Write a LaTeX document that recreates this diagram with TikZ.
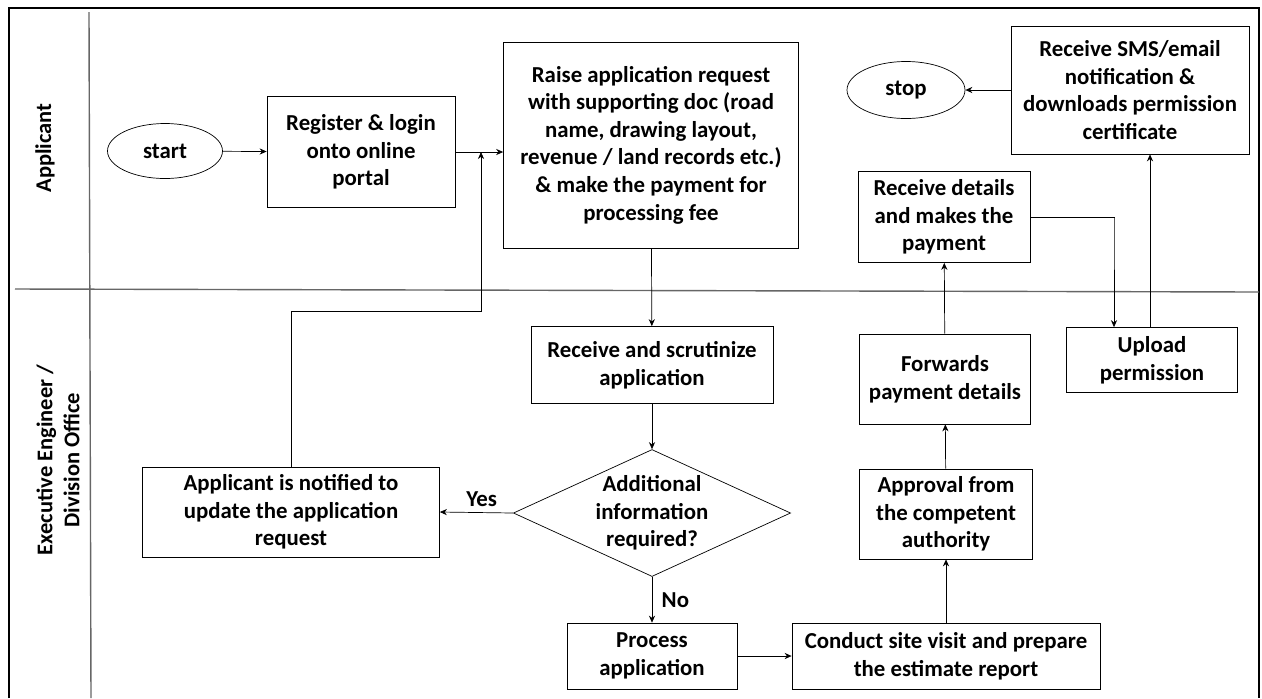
\documentclass[tikz,border=0pt]{standalone}
\usepackage{fontspec}
\setmainfont{Carlito}
\usepackage{tikz}
\usetikzlibrary{shapes.geometric,arrows.meta}

\newdimen\px \px=0.02cm

\begin{document}
\begin{tikzpicture}[x=\px, y=-\px,
    every node/.style={font=\bfseries\fontsize{13}{15.7}\selectfont},
    box/.style={draw, thin, align=center, inner sep=0pt},
    term/.style={draw, thin, ellipse, inner sep=0pt},
    lane/.style={rotate=90, align=center, font=\bfseries\fontsize{12.8}{15.3}\selectfont},
    arr/.style={thin, -{Stealth[length=4pt, width=3.5pt]}}]
    \useasboundingbox (0,0) rectangle (1262,698);

    \draw[line width=1.1pt] (9,698) -- (9,8) -- (1259,8) -- (1259,698);
    \draw[gray!80!black, line width=0.8pt] (89,12) -- (91,698);
    \draw[gray!80!black, line width=0.8pt] (15,289) -- (1259,292);

    \node[lane] (applicant) at (45,148) {Applicant};
    \node[lane] (office) at (58,460) {Executive Engineer /\\Division Office};

    \node[term, minimum width=115\px, minimum height=55\px] (start) at (165,151) {start};
    \node[box, minimum width=188\px, minimum height=111\px] (reg) at (361,152) {Register \& login\\onto online\\portal};
    \node[box, minimum width=295\px, minimum height=206\px] (raise) at (651,145) {Raise application request\\with supporting doc (road\\name, drawing layout,\\revenue / land records etc.)\\\& make the payment for\\processing fee};
    \node[term, minimum width=118\px, minimum height=57\px] (stop) at (906,90) {stop};
    \node[box, minimum width=238\px, minimum height=128\px] (sms) at (1130,90) {Receive SMS/email\\notification \&\\downloads permission\\certificate};
    \node[box, minimum width=172\px, minimum height=91\px] (details) at (944,217) {Receive details\\and makes the\\payment};

    \node[box, minimum width=242\px, minimum height=77\px] (scrut) at (652,365) {Receive and scrutinize\\application};
    \node[box, diamond, aspect=2.2, minimum width=275\px, minimum height=127\px] (dia) at (652,513) {Additional\\information\\required?};
    \node[box, minimum width=297\px, minimum height=90\px] (notify) at (291,512) {Applicant is notified to\\update the application\\request};
    \node[box, minimum width=170\px, minimum height=66\px] (proc) at (652,656) {Process\\application};
    \node[box, minimum width=308\px, minimum height=66\px] (site) at (946,656) {Conduct site visit and prepare\\the estimate report};
    \node[box, minimum width=173\px, minimum height=90\px] (approve) at (946,514) {Approval from\\the competent\\authority};
    \node[box, minimum width=171\px, minimum height=90\px] (fwd) at (945,379) {Forwards\\payment details};
    \node[box, minimum width=171\px, minimum height=65\px] (upload) at (1152,360) {Upload\\permission};

    \coordinate (back) at (481,311);
    \coordinate (down) at (1114,218);
    \coordinate (up) at (1150,300);

    \draw[arr] (start) -- (reg);
    \draw[arr] (reg.east) -- (reg.east -| raise.west);
    \draw[arr] (notify.north) |- (back) -- (back |- reg.east);
    \draw[arr] (raise) -- (scrut);
    \draw[arr] (scrut) -- (dia);
    \draw[arr] (dia.west) -- node[above, xshift=3pt] (yes) {Yes} (notify.east);
    \draw[arr] (dia.south) -- node[right, xshift=2pt] (no) {No} (proc.north);
    \draw[arr] (proc) -- (site);
    \draw[arr] (site) -- (approve);
    \draw[arr] (approve) -- (fwd);
    \draw[arr] (fwd) -- (details);
    \draw[arr] (details.east) -| (down) -- (down |- upload.north);
    \draw[arr] (up |- upload.north) -- (up |- sms.south);
    \draw[arr] (sms) -- (stop);
\end{tikzpicture}
\end{document}
